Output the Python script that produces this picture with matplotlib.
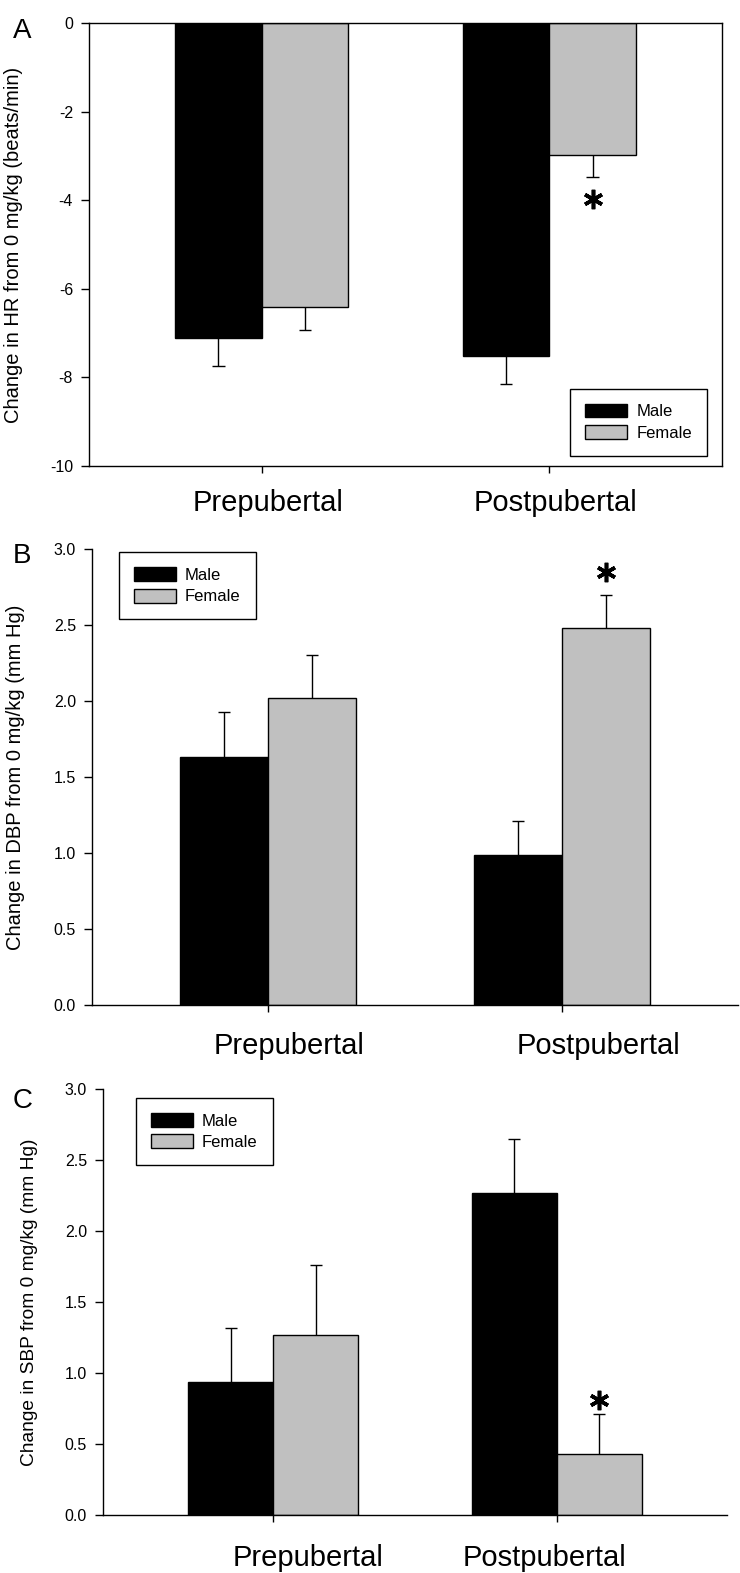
import matplotlib
matplotlib.use("Agg")
import matplotlib.pyplot as plt
from matplotlib.ticker import FormatStrFormatter

plt.rcParams['font.family'] = ['Liberation Sans', 'DejaVu Sans']
plt.rcParams['axes.unicode_minus'] = False

# Datos
grupos = ["Prepubertal", "Postpubertal"]
sexos = ["Male", "Female"]

hr_male = [-7.10, -7.51]
hr_male_sem = [0.64, 0.64]
hr_female = [-6.40, -2.98]
hr_female_sem = [0.53, 0.49]

dbp_male = [1.63, 0.99]
dbp_male_sem = [0.30, 0.22]
dbp_female = [2.02, 2.48]
dbp_female_sem = [0.28, 0.22]

sbp_male = [0.94, 2.27]
sbp_male_sem = [0.38, 0.38]
sbp_female = [1.27, 0.43]
sbp_female_sem = [0.49, 0.28]

# posição dos asteriscos (grupo, y)
ast_hr = (1, -3.97)
ast_dbp = (1, 2.85)
ast_sbp = (1, 0.81)

cores = ["black", "#c0c0c0"]
largura = 0.3
meia_barra_erro = 0.021
W, H = 740, 1573


def painel(ax, male, male_sem, female, female_sem, ast, ylabel,
           ylim, yticks, fmt, leg_loc, leg_anchor, lab_dx, lab_y, ylab_size,
           full_box):
    x = [1, 2]
    for serie, sem, sinal, cor, lab in [
        (male, male_sem, -1, cores[0], sexos[0]),
        (female, female_sem, 1, cores[1], sexos[1]),
    ]:
        pos = [xi + sinal * largura / 2 for xi in x]
        ax.bar(pos, serie, width=largura, color=cor, edgecolor="black",
               linewidth=1.0, label=lab, zorder=2)
        # barra de erro só para fora da barra
        fim = [v - s if v < 0 else v + s for v, s in zip(serie, sem)]
        ax.vlines(pos, serie, fim, color="black", linewidth=1.0, zorder=3)
        ax.hlines(fim, [p - meia_barra_erro for p in pos],
                  [p + meia_barra_erro for p in pos], color="black",
                  linewidth=1.0, zorder=3)

    # asterisco de significância
    gi, ya = ast
    ax.plot(x[gi] + largura / 2, ya, marker=(6, 2, 0), markersize=14,
            markeredgewidth=2.6, color="black", zorder=4)

    ax.set_xlim(0.4, 2.6)
    ax.set_ylim(*ylim)
    ax.set_yticks(yticks)
    ax.yaxis.set_major_formatter(FormatStrFormatter(fmt))
    ax.set_xticks(x)
    ax.set_xticklabels(["", ""])
    ax.tick_params(axis="y", direction="out", length=5.5, width=1.0, pad=6,
                   labelsize=11.5)
    ax.tick_params(axis="x", direction="out", length=5, width=1.0)
    for s in ax.spines.values():
        s.set_linewidth(1.0)
    if not full_box:
        ax.spines["top"].set_visible(False)
        ax.spines["right"].set_visible(False)

    for xi, dx, nome in zip(x, lab_dx, grupos):
        ax.text(xi + dx, lab_y, nome, transform=ax.get_xaxis_transform(),
                ha="center", va="center", fontsize=21)

    ax.set_ylabel(ylabel, fontsize=ylab_size)
    ax.yaxis.set_label_coords(-0.104, 0.5)

    ax.legend(loc=leg_loc, bbox_to_anchor=leg_anchor, borderaxespad=0,
              fancybox=False, framealpha=1, edgecolor="black", fontsize=12,
              handlelength=2.5, handleheight=0.9, handletextpad=0.55,
              labelspacing=0.35, borderpad=0.9)
    ax.get_legend().get_frame().set_linewidth(1.0)


fig = plt.figure(figsize=(W / 100, H / 100), dpi=100)

axA = fig.add_axes([89 / W, 1 - 466 / H, (722 - 89) / W, (466 - 23) / H])
axB = fig.add_axes([92 / W, 1 - 1005 / H, (738 - 92) / W, (1005 - 549) / H])
axC = fig.add_axes([103 / W, 1 - 1515 / H, (727 - 103) / W, (1515 - 1089) / H])

painel(axA, hr_male, hr_male_sem, hr_female, hr_female_sem, ast_hr,
       "Change in HR from 0 mg/kg (beats/min)", (-10, 0), range(-10, 1, 2),
       "%g", "lower right", (0.976, 0.023), [0.023, 0.02], -0.084, 14.5, True)
painel(axB, dbp_male, dbp_male_sem, dbp_female, dbp_female_sem, ast_dbp,
       "Change in DBP from 0 mg/kg (mm Hg)", (0, 3),
       [0, 0.5, 1.0, 1.5, 2.0, 2.5, 3.0], "%.1f", "upper left",
       (0.042, 0.993), [0.07, 0.125], -0.090, 14.5, False)
painel(axC, sbp_male, sbp_male_sem, sbp_female, sbp_female_sem, ast_sbp,
       "Change in SBP from 0 mg/kg (mm Hg)", (0, 3),
       [0, 0.5, 1.0, 1.5, 2.0, 2.5, 3.0], "%.1f", "upper left",
       (0.053, 0.979), [0.123, -0.044], -0.101, 13.8, False)

# letras dos painéis
for letra, yb in [("A", 38), ("B", 563), ("C", 1108)]:
    fig.text(13 / W, 1 - yb / H, letra, fontsize=20, va="baseline", ha="left")

fig.savefig("out.png", dpi=100)
